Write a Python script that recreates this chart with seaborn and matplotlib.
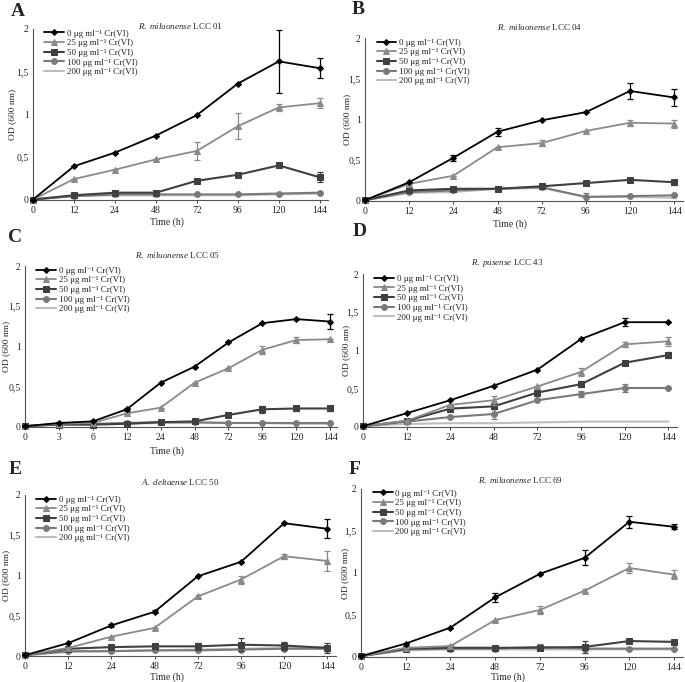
import numpy as np
import pandas as pd
import matplotlib
matplotlib.use("Agg")
import matplotlib.pyplot as plt
import seaborn as sns

sns.set_style("white")
plt.rcParams["font.family"] = ["Liberation Serif", "DejaVu Serif"]
plt.rcParams["mathtext.fontset"] = "custom"
plt.rcParams["mathtext.rm"] = "Liberation Serif"
plt.rcParams["mathtext.it"] = "Liberation Serif:italic"

# ── data ─────────────────────────────────────────────────────
conc_labels = ["0 μg ml⁻¹ Cr(VI)", "25 μg ml⁻¹ Cr(VI)", "50 μg ml⁻¹ Cr(VI)",
               "100 μg ml⁻¹ Cr(VI)", "200 μg ml⁻¹ Cr(VI)"]
time_std = ["0", "12", "24", "48", "72", "96", "120", "144"]
time_c = ["0", "3", "6", "12", "24", "48", "72", "96", "120", "144"]

# panel A  R. miluonense LCC 01
a_mean = [[0.00, 0.39, 0.55, 0.75, 0.99, 1.36, 1.62, 1.54],
          [0.00, 0.24, 0.35, 0.47, 0.57, 0.86, 1.08, 1.13],
          [0.00, 0.05, 0.08, 0.08, 0.22, 0.29, 0.40, 0.26],
          [0.00, 0.04, 0.06, 0.06, 0.06, 0.06, 0.07, 0.08],
          [0.00, 0.04, 0.05, 0.05, 0.05, 0.05, 0.06, 0.07]]
a_err = [[0, 0, 0, 0, 0, 0, 0.37, 0.12],
         [0, 0, 0, 0, 0.11, 0.15, 0.04, 0.06],
         [0, 0, 0, 0, 0, 0, 0, 0.06],
         [0, 0, 0, 0, 0, 0, 0, 0],
         [0, 0, 0, 0, 0, 0, 0, 0]]

# panel B  R. miluonense LCC 04
b_mean = [[0.01, 0.23, 0.53, 0.85, 0.99, 1.09, 1.35, 1.27],
          [0.01, 0.21, 0.31, 0.66, 0.71, 0.86, 0.96, 0.95],
          [0.01, 0.13, 0.15, 0.15, 0.18, 0.22, 0.26, 0.23],
          [0.01, 0.11, 0.13, 0.15, 0.17, 0.05, 0.06, 0.07],
          [0.01, 0.10, 0.11, 0.15, 0.16, 0.05, 0.05, 0.04]]
b_err = [[0, 0, 0.04, 0.05, 0, 0, 0.10, 0.10],
         [0, 0, 0, 0, 0.04, 0, 0.04, 0.05],
         [0, 0, 0, 0, 0, 0, 0.02, 0.03],
         [0, 0, 0, 0, 0, 0.05, 0, 0],
         [0, 0, 0, 0, 0, 0, 0, 0]]

# panel C  R. miluonense LCC 05
c_mean = [[0.01, 0.05, 0.07, 0.22, 0.55, 0.75, 1.05, 1.29, 1.34, 1.31],
          [0.01, 0.04, 0.05, 0.17, 0.24, 0.55, 0.73, 0.96, 1.08, 1.09],
          [0.01, 0.03, 0.03, 0.04, 0.06, 0.07, 0.15, 0.22, 0.23, 0.23],
          [0.01, 0.04, 0.04, 0.05, 0.06, 0.06, 0.05, 0.05, 0.05, 0.05],
          [0.01, 0.03, 0.03, 0.04, 0.05, 0.05, 0.05, 0.05, 0.04, 0.04]]
c_err = [[0, 0, 0, 0.02, 0, 0, 0, 0, 0, 0.09],
         [0, 0, 0, 0, 0, 0, 0, 0.05, 0.04, 0],
         [0, 0, 0, 0, 0, 0, 0, 0.04, 0.03, 0.03],
         [0, 0, 0, 0, 0, 0, 0, 0, 0, 0],
         [0, 0, 0, 0, 0, 0, 0, 0, 0, 0]]

# panel D  R. pusense LCC 43
d_mean = [[0.01, 0.18, 0.35, 0.54, 0.75, 1.15, 1.37, 1.37],
          [0.01, 0.08, 0.29, 0.35, 0.53, 0.72, 1.08, 1.12],
          [0.01, 0.08, 0.24, 0.27, 0.45, 0.56, 0.84, 0.94],
          [0.01, 0.07, 0.13, 0.17, 0.35, 0.43, 0.51, 0.51],
          [0.01, 0.04, 0.05, 0.05, 0.06, 0.07, 0.07, 0.07]]
d_err = [[0, 0, 0, 0, 0, 0, 0.05, 0],
         [0, 0, 0, 0.06, 0, 0.05, 0.03, 0.06],
         [0, 0, 0, 0.04, 0, 0.04, 0, 0.04],
         [0, 0, 0, 0.06, 0, 0.04, 0.05, 0],
         [0, 0, 0, 0, 0, 0, 0, 0]]

# panel E  A. deltaense LCC 50
e_mean = [[0.01, 0.16, 0.38, 0.55, 0.99, 1.17, 1.65, 1.58],
          [0.01, 0.10, 0.24, 0.35, 0.74, 0.95, 1.24, 1.18],
          [0.01, 0.09, 0.11, 0.12, 0.12, 0.14, 0.13, 0.10],
          [0.01, 0.06, 0.06, 0.07, 0.07, 0.08, 0.09, 0.09],
          [0.01, 0.05, 0.06, 0.07, 0.08, 0.09, 0.10, 0.11]]
e_err = [[0, 0, 0.02, 0.02, 0, 0, 0, 0.12],
         [0, 0, 0, 0, 0.02, 0.05, 0.03, 0.12],
         [0, 0, 0, 0.03, 0.04, 0.08, 0.05, 0.06],
         [0, 0, 0, 0, 0, 0, 0, 0],
         [0, 0, 0, 0, 0, 0, 0, 0]]

# panel F  R. miluonense LCC 69
f_mean = [[0.01, 0.16, 0.35, 0.71, 0.99, 1.18, 1.61, 1.55],
          [0.01, 0.11, 0.13, 0.44, 0.56, 0.79, 1.06, 0.98],
          [0.01, 0.10, 0.11, 0.11, 0.11, 0.12, 0.19, 0.18],
          [0.01, 0.09, 0.10, 0.10, 0.12, 0.10, 0.10, 0.10],
          [0.01, 0.08, 0.09, 0.09, 0.09, 0.09, 0.09, 0.09]]
f_err = [[0, 0, 0, 0.05, 0, 0.09, 0.07, 0.03],
         [0, 0, 0, 0, 0.05, 0.02, 0.06, 0.05],
         [0, 0, 0, 0, 0, 0.07, 0, 0],
         [0, 0, 0.03, 0, 0.04, 0, 0, 0],
         [0, 0, 0, 0, 0, 0, 0, 0]]

# ── styles ───────────────────────────────────────────────────
colors = ["#000000", "#8a8a8a", "#404040", "#7a7a7a", "#bdbdbd"]
markers = ["D", "^", "s", "o", None]
msizes = [3, 3.8, 4.2, 4.2, 0]
lwidths = [1.3, 1.3, 1.5, 1.5, 1.5]

panels = [
    # letter, species, strain, times, mean, err, rect px (l, t, r, b),
    # letter pos, title pos, xlabel y, ylabel x
    ("A", "R.\\ miluonense", "LCC 01", time_std, a_mean, a_err,
     (33, 29, 328, 199.5), (18, 12), (180, 26), 222, 12),
    ("B", "R.\\ miluonense", "LCC 04", time_std, b_mean, b_err,
     (365, 38, 683, 201), (358, 10), (540, 27), 224, 347),
    ("C", "R.\\ miluonense", "LCC 05", time_c, c_mean, c_err,
     (25, 266, 337, 427), (15, 237), (177, 255), 451, 6),
    ("D", "R.\\ pusense", "LCC 43", time_std, d_mean, d_err,
     (363, 274, 677, 427), (360, 232), (507, 263), None, 346),
    ("E", "A.\\ deltaense", "LCC 50", time_std, e_mean, e_err,
     (25, 495, 336, 656), (15, 470), (180, 482), 677, 6),
    ("F", "R.\\ miluonense", "LCC 69", time_std, f_mean, f_err,
     (361, 489, 683, 657), (355, 470), (520, 480), 677, 345),
]

W, H = 685, 682
fig = plt.figure(figsize=(W / 100, H / 100), dpi=100)

for (letter, species, strain, times, means, errs, rect, lpos, tpos,
     xly, ylx) in panels:
    l, t, r, b = rect
    ax = fig.add_axes([l / W, 1 - b / H, (r - l) / W, (b - t) / H])
    pos = np.arange(len(times))
    for i, lab in enumerate(conc_labels):
        df = pd.DataFrame({"x": pos, "y": means[i]})
        sns.lineplot(data=df, x="x", y="y", ax=ax, color=colors[i],
                     marker=markers[i], markersize=msizes[i],
                     markeredgecolor=colors[i], linewidth=lwidths[i],
                     label=lab, clip_on=False, zorder=5 - i)
        e = np.array(errs[i])
        if e.any():
            ax.errorbar(pos, means[i], yerr=e, fmt="none", ecolor=colors[i],
                        elinewidth=0.9, capsize=2, capthick=0.9,
                        zorder=5 - i, clip_on=False)
    n = len(times)
    ax.set_xlim(0, n - 1 + 0.2)
    ax.set_ylim(0, 2)
    ax.set_xticks(pos)
    ax.set_xticklabels(times)
    ax.set_yticks([0, 0.5, 1, 1.5, 2])
    ax.set_yticklabels(["0", "0,5", "1", "1,5", "2"])
    ax.tick_params(axis="x", labelsize=7, length=2.5, width=0.6, pad=2,
                   bottom=True)
    ax.tick_params(axis="y", labelsize=7, length=0, pad=3)
    for sp in ["top", "right"]:
        ax.spines[sp].set_visible(False)
    for sp in ["left", "bottom"]:
        ax.spines[sp].set_color("#555555")
        ax.spines[sp].set_linewidth(0.8)
    ax.set_xlabel("")
    ax.set_ylabel("OD (600 nm)", fontsize=6.8, va="center")
    ax.yaxis.set_label_coords((ylx - l) / (r - l), 0.5)
    ax.legend(loc="upper left", bbox_to_anchor=(0.025, 1.02), frameon=False,
              fontsize=6.5, handlelength=2.2, handletextpad=0.3,
              labelspacing=0.15, borderaxespad=0)
    fig.text(lpos[0] / W, 1 - lpos[1] / H, letter, fontsize=14,
             fontweight="bold", ha="center", va="center")
    fig.text(tpos[0] / W, 1 - tpos[1] / H,
             "$\\it{" + species + "}$ " + strain, fontsize=6.5,
             ha="center", va="center")
    if xly is not None:
        fig.text((l + r) / 2 / W - 0.02, 1 - xly / H, "Time (h)", fontsize=7,
                 ha="center", va="center")

plt.savefig("out.png", dpi=100)
plt.close()
